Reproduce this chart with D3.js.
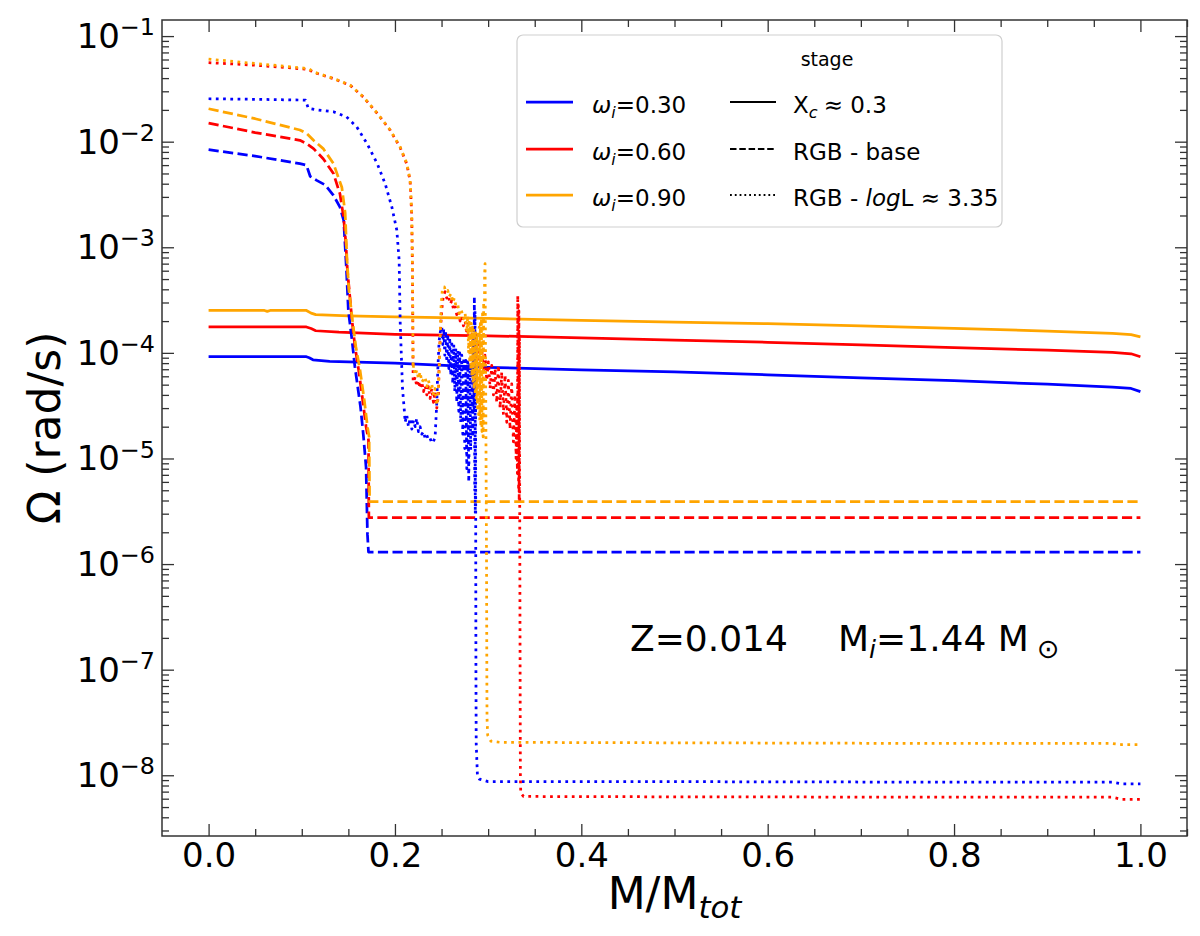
<!DOCTYPE html>
<html>
<head>
<meta charset="utf-8">
<script src="https://cdn.jsdelivr.net/npm/d3@7"></script>
<style>
  body { margin: 0; background: #fff; }
  text { font-family: "DejaVu Sans", sans-serif; fill: #000; }
</style>
</head>
<body>
<div id="chart"></div>
<script>
// ---- data ----
// stage Xc ~ 0.3 (solid)
var blueSolid = [[0,9.2e-5],[0.105,9.2e-5],[0.108,9.0e-5],[0.112,8.6e-5],[0.13,8.3e-5],[0.2,8.0e-5],[0.3,7.3e-5],[0.4,6.9e-5],[0.5,6.6e-5],[0.6,6.2e-5],[0.7,5.8e-5],[0.8,5.45e-5],[0.9,5.05e-5],[0.97,4.75e-5],[0.99,4.6e-5],[1.0,4.3e-5]];
var redSolid = [[0,1.76e-4],[0.105,1.76e-4],[0.11,1.7e-4],[0.115,1.62e-4],[0.14,1.57e-4],[0.2,1.5e-4],[0.3,1.45e-4],[0.4,1.39e-4],[0.5,1.32e-4],[0.6,1.26e-4],[0.7,1.19e-4],[0.8,1.12e-4],[0.9,1.06e-4],[0.97,1.01e-4],[0.99,9.8e-5],[1.0,9.2e-5]];
var orangeSolid = [[0,2.52e-4],[0.06,2.52e-4],[0.063,2.47e-4],[0.066,2.52e-4],[0.105,2.52e-4],[0.11,2.38e-4],[0.115,2.3e-4],[0.15,2.24e-4],[0.2,2.19e-4],[0.3,2.12e-4],[0.4,2.03e-4],[0.5,1.96e-4],[0.6,1.89e-4],[0.7,1.8e-4],[0.8,1.71e-4],[0.9,1.61e-4],[0.97,1.53e-4],[0.99,1.49e-4],[1.0,1.42e-4]];

// stage RGB base (dashed)
var blueDashed = [[0,8.4e-3],[0.05,7.3e-3],[0.098,6.2e-3],[0.105,6.0e-3],[0.109,4.7e-3],[0.116,4.3e-3],[0.125,3.9e-3],[0.134,3.1e-3],[0.141,2.4e-3],[0.145,1.8e-3],[0.1466,1.0e-3],[0.148,6e-4],[0.150,2.5e-4],[0.154,1.3e-4],[0.157,7.4e-5],[0.163,3.1e-5],[0.166,1.7e-5],[0.169,8.3e-6],[0.1705,1.9e-6],[0.1716,1.3e-6],[1.0,1.3e-6]];
var redDashed = [[0,1.5e-2],[0.05,1.22e-2],[0.098,1.03e-2],[0.105,9.6e-3],[0.1126,8.6e-3],[0.123,6.9e-3],[0.134,5.0e-3],[0.141,3.2e-3],[0.1448,1.95e-3],[0.1473,1.1e-3],[0.149,6e-4],[0.151,3.9e-4],[0.154,2.0e-4],[0.157,1.17e-4],[0.161,6.9e-5],[0.1655,3.5e-5],[0.169,2.0e-5],[0.1716,1.5e-5],[0.172,2.75e-6],[1.0,2.75e-6]];
var orangeDashed = [[0,2.05e-2],[0.05,1.65e-2],[0.098,1.29e-2],[0.105,1.2e-2],[0.1126,1.03e-2],[0.123,8.6e-3],[0.134,6.2e-3],[0.143,3.7e-3],[0.1466,2.1e-3],[0.1484,8.1e-4],[0.1505,4.0e-4],[0.1545,2.0e-4],[0.158,1.15e-4],[0.1625,6.9e-5],[0.1672,3.5e-5],[0.1705,2.0e-5],[0.1723,1.6e-5],[0.1728,3.9e-6],[1.0,3.9e-6]];

// stage RGB logL ~ 3.35 (dotted)
var blueDotted = [[0,2.55e-2],[0.05,2.52e-2],[0.098,2.48e-2],[0.104,2.47e-2],[0.107,2.07e-2],[0.116,2.0e-2],[0.134,1.92e-2],[0.148,1.72e-2],[0.159,1.38e-2],[0.170,9.6e-3],[0.181,6.2e-3],[0.1895,4.0e-3],[0.1967,2.4e-3],[0.202,1.45e-3],[0.2045,7.5e-4],[0.2056,1.97e-4],[0.2081,4.6e-5],[0.2102,2.76e-5],
  [0.2109,2.2e-5],[0.2127,2.57e-5],[0.2145,2.0e-5],[0.2163,2.4e-5],[0.2181,1.9e-5],[0.2199,2.3e-5],[0.2217,2.0e-5],[0.2234,2.4e-5],[0.2252,1.8e-5],[0.227,2.0e-5],[0.2288,1.7e-5],[0.2306,1.8e-5],[0.2324,1.55e-5],[0.2342,1.66e-5],[0.236,1.5e-5],[0.2377,1.55e-5],[0.2395,1.4e-5],[0.2413,1.44e-5],[0.2431,1.6e-5],
  [0.2449,3.4e-5],[0.246,7e-5],[0.2474,1.3e-4],[0.2488,1.6e-4],[0.2503,1.76e-4],[0.2513,1.2e-4],[0.2524,1.7e-4],[0.2535,9.5e-5],[0.2545,1.6e-4],[0.2556,8.2e-5],[0.2567,1.5e-4],[0.2578,7.1e-5],[0.2588,1.4e-4],[0.2599,6.1e-5],[0.261,1.3e-4],[0.262,5.1e-5],[0.2631,1.2e-4],[0.2642,4.3e-5],[0.2653,1.1e-4],[0.2663,3.4e-5],[0.2674,1.05e-4],[0.2685,2.8e-5],[0.2695,1.0e-4],[0.2706,2.2e-5],[0.2717,9.5e-5],[0.2728,1.7e-5],[0.2738,9e-5],[0.2749,1.24e-5],[0.276,8.5e-5],[0.2771,8e-6],[0.2781,8.2e-5],[0.2792,6e-6],[0.2803,8e-5],[0.2813,1.2e-5],[0.2824,7.8e-5],[0.2835,1.6e-5],[0.2842,1.5e-4],
  [0.2848,3e-5],[0.2852,3.4e-4],[0.2856,5e-6],[0.2859,2.5e-4],[0.2862,3e-6],[0.2865,1.5e-4],[0.2867,1.3e-6],[0.2869,1e-7],[0.2872,2e-8],[0.2885,1.0e-8],[0.2906,9.2e-9],[0.30,8.7e-9],[0.5,8.7e-9],[0.8,8.6e-9],[0.97,8.6e-9],[0.98,8.3e-9],[1.0,8.3e-9]];
var redDotted = [[0,5.6e-2],[0.05,5.3e-2],[0.1,4.9e-2],[0.108,4.8e-2],[0.112,4.55e-2],[0.134,3.95e-2],[0.152,3.42e-2],[0.166,2.65e-2],[0.181,1.85e-2],[0.195,1.28e-2],[0.2056,8.8e-3],[0.2128,6.1e-3],[0.2163,4.2e-3],[0.218,2.0e-3],[0.2188,6e-4],[0.2195,5.3e-5],
  [0.2199,5.3e-5],[0.2217,5.9e-5],[0.2234,4.8e-5],[0.2252,5.5e-5],[0.227,4.6e-5],[0.2288,5.3e-5],[0.2306,4.3e-5],[0.2324,4.9e-5],[0.2342,4.0e-5],[0.236,4.8e-5],[0.2377,3.7e-5],[0.2395,4.6e-5],[0.2413,3.4e-5],[0.2431,4.3e-5],[0.2449,3.0e-5],[0.2467,4.0e-5],
  [0.2474,8.2e-5],[0.2488,1.6e-4],[0.2503,2.6e-4],[0.252,3.5e-4],[0.2538,3.8e-4],[0.2556,3.3e-4],[0.2574,3.5e-4],[0.2592,2.9e-4],[0.261,3.1e-4],[0.2628,2.6e-4],[0.2645,2.8e-4],[0.2663,2.3e-4],[0.2681,2.5e-4],[0.2699,2.0e-4],[0.2717,2.2e-4],[0.2735,1.8e-4],[0.2753,2.0e-4],[0.2771,1.5e-4],[0.2789,1.9e-4],[0.2806,1.2e-4],[0.2824,1.7e-4],[0.2842,1.0e-4],[0.286,1.5e-4],[0.2878,8.5e-5],[0.2896,1.3e-4],[0.2914,7.5e-5],[0.2931,1.1e-4],[0.2949,6.5e-5],[0.2967,9.5e-5],[0.2985,5.5e-5],
  [0.3003,8.2e-5],[0.3021,4.6e-5],[0.3039,7.6e-5],[0.3057,4.0e-5],[0.3075,7.1e-5],[0.3092,3.4e-5],[0.311,7.6e-5],[0.3128,3.0e-5],[0.3146,6.6e-5],[0.3164,2.6e-5],[0.3182,6.15e-5],[0.32,2.2e-5],[0.3217,5.5e-5],[0.3235,1.9e-5],[0.3253,5.1e-5],[0.3271,1.44e-5],[0.3289,4.0e-5],[0.33,1.0e-5],[0.3307,3.0e-5],[0.3314,7.2e-6],
  [0.3318,3.5e-4],[0.3321,8e-6],[0.3324,3e-4],[0.3327,5e-6],[0.333,2.5e-4],[0.3333,4e-6],[0.3336,1.5e-4],[0.3339,3e-6],[0.3343,1e-7],[0.3346,1e-8],[0.335,6.8e-9],[0.338,6.3e-9],[0.5,6.25e-9],[0.8,6.2e-9],[0.97,6.2e-9],[0.98,5.9e-9],[1.0,5.9e-9]];
var orangeDotted = [[0,6.05e-2],[0.05,5.5e-2],[0.1,5.0e-2],[0.108,4.9e-2],[0.112,4.6e-2],[0.134,3.97e-2],[0.152,3.43e-2],[0.166,2.66e-2],[0.181,1.86e-2],[0.195,1.29e-2],[0.2056,8.9e-3],[0.2128,6.2e-3],[0.2163,4.3e-3],[0.218,2.1e-3],[0.2188,6e-4],[0.2195,7.1e-5],
  [0.2199,7.6e-5],[0.2217,6.15e-5],[0.2234,6.85e-5],[0.2252,5.7e-5],[0.227,6.6e-5],[0.2288,5.3e-5],[0.2324,5.9e-5],[0.2342,4.8e-5],[0.236,5.5e-5],[0.2377,4.6e-5],[0.2395,5.1e-5],[0.2413,4.0e-5],[0.2431,4.6e-5],[0.2449,3.2e-5],[0.246,3.7e-5],
  [0.2474,6.6e-5],[0.2485,1.37e-4],[0.2495,2.8e-4],[0.251,4.1e-4],[0.2531,4.2e-4],[0.2545,3.8e-4],[0.2567,3.9e-4],[0.2581,3.4e-4],[0.2603,3.65e-4],[0.2617,3.0e-4],[0.2638,3.3e-4],[0.2653,2.8e-4],[0.2674,2.9e-4],[0.2688,2.36e-4],[0.271,2.6e-4],[0.2735,2.1e-4],[0.2753,2.36e-4],[0.2771,1.58e-4],[0.2781,2.27e-4],
  [0.279,1.0e-4],[0.2796,2.1e-4],[0.2802,8e-5],[0.2808,1.95e-4],[0.2814,7e-5],[0.282,1.9e-4],[0.2826,6e-5],[0.2832,1.75e-4],[0.2838,5.2e-5],[0.2844,1.7e-4],[0.285,4.5e-5],[0.2856,1.6e-4],[0.2862,4e-5],[0.2868,1.55e-4],[0.2874,3.5e-5],[0.288,1.5e-4],[0.2886,3e-5],[0.2892,1.6e-4],[0.2898,2.6e-5],[0.2904,1.75e-4],[0.291,2.3e-5],[0.2916,1.9e-4],[0.2922,2.0e-5],[0.2928,2.1e-4],[0.2934,1.8e-5],[0.294,2.5e-4],[0.2946,1.6e-5],[0.2952,3.0e-4],[0.2958,2e-5],[0.2962,5.45e-4],[0.2967,7.0e-4],
  [0.2975,3e-5],[0.2983,1e-6],[0.2986,1e-7],[0.2988,3.5e-8],[0.2995,2.4e-8],[0.303,2.1e-8],[0.313,2.05e-8],[0.5,2.03e-8],[0.8,2.0e-8],[0.97,2.0e-8],[0.98,1.95e-8],[1.0,1.95e-8]];

var omegaLabels = ["0.30", "0.60", "0.90"];
var omegaColors = ["blue", "red", "orange"];
var xTicks = [0, 0.2, 0.4, 0.6, 0.8, 1.0];
var xTickLabels = ["0.0", "0.2", "0.4", "0.6", "0.8", "1.0"];
var yMajorTicks = [1e-8, 1e-7, 1e-6, 1e-5, 1e-4, 1e-3, 1e-2, 1e-1];
var yTickExps = ["\u22128", "\u22127", "\u22126", "\u22125", "\u22124", "\u22123", "\u22122", "\u22121"];

var series = [
  {data: blueSolid, color: "blue", dash: null},
  {data: redSolid, color: "red", dash: null},
  {data: orangeSolid, color: "orange", dash: null},
  {data: blueDashed, color: "blue", dash: "10.2,4.4"},
  {data: redDashed, color: "red", dash: "10.2,4.4"},
  {data: orangeDashed, color: "orange", dash: "10.2,4.4"},
  {data: blueDotted, color: "blue", dash: "2.75,4.5"},
  {data: redDotted, color: "red", dash: "2.75,4.5"},
  {data: orangeDotted, color: "orange", dash: "2.75,4.5"}
];

// ---- layout ----
var svgWidth = 1200;
var svgHeight = 936;
var margin = {top: 20, right: 13, bottom: 100, left: 162};
var chartWidth = svgWidth - margin.left - margin.right;
var chartHeight = svgHeight - margin.top - margin.bottom;

var svg = d3.select("#chart").append("svg")
  .attr("width", svgWidth)
  .attr("height", svgHeight);

var chartGroup = svg.append("g")
  .attr("transform", `translate(${margin.left}, ${margin.top})`);

var x = d3.scaleLinear().domain([-0.05, 1.05]).range([0, chartWidth]);
var y = d3.scaleLog().domain([2.66e-9, 0.142]).range([chartHeight, 0]);

// small helper for mathtext-like labels (sub / superscripts, italics)
function richText(sel, px, py, parts, size, anchor) {
  var t = sel.append("text")
    .attr("x", px).attr("y", py)
    .attr("font-size", size)
    .attr("text-anchor", anchor || "start");
  var prev = 0;
  parts.forEach(function(p) {
    var off = 0, fs = size;
    if (p.sub) { fs = size * (p.scale || 0.7); off = size * 0.2; }
    if (p.sup) { fs = size * 0.7; off = -size * 0.38; }
    var ts = t.append("tspan").text(p.t)
      .attr("font-size", fs)
      .attr("dy", off - prev);
    if (p.dx) ts.attr("dx", p.dx);
    if (p.it) ts.attr("font-style", "italic");
    prev = off;
  });
  return t;
}

// ---- lines ----
svg.append("defs").append("clipPath").attr("id", "plotclip")
  .append("rect").attr("width", chartWidth).attr("height", chartHeight);

var line = d3.line()
  .x(d => x(d[0]))
  .y(d => y(d[1]));

chartGroup.append("g").attr("clip-path", "url(#plotclip)")
  .selectAll("path")
  .data(series)
  .enter()
  .append("path")
  .attr("d", d => line(d.data))
  .attr("fill", "none")
  .attr("stroke", d => d.color)
  .attr("stroke-width", 2.75)
  .attr("stroke-dasharray", d => d.dash)
  .attr("stroke-linejoin", "round");

// ---- axes (ticks inward on all four sides) ----
var xMinor = d3.range(1, 22).map(i => i * 0.05).filter(v => Math.abs(v / 0.2 - Math.round(v / 0.2)) > 1e-6);
var yMinor = [];
d3.range(-9, 0).forEach(function(e) {
  d3.range(2, 10).forEach(function(k) {
    var v = k * Math.pow(10, e);
    if (v > 2.66e-9 && v < 0.142) yMinor.push(v);
  });
});

function styleAxis(g) {
  g.select(".domain").remove();
  g.selectAll(".tick line").attr("stroke", "#333").attr("stroke-width", 1.3);
}

// bottom
chartGroup.append("g")
  .attr("transform", `translate(0, ${chartHeight})`)
  .call(d3.axisBottom(x).tickValues(xTicks).tickSize(-12).tickPadding(7)
    .tickFormat((d, i) => xTickLabels[i]))
  .call(styleAxis)
  .selectAll("text")
  .attr("font-size", 34)
  .attr("font-family", "DejaVu Sans")
  .attr("fill", "#000");
chartGroup.append("g")
  .attr("transform", `translate(0, ${chartHeight})`)
  .call(d3.axisBottom(x).tickValues(xMinor).tickSize(-7).tickFormat(""))
  .call(styleAxis);
// top
chartGroup.append("g")
  .call(d3.axisTop(x).tickValues(xTicks).tickSize(-12).tickFormat(""))
  .call(styleAxis);
chartGroup.append("g")
  .call(d3.axisTop(x).tickValues(xMinor).tickSize(-7).tickFormat(""))
  .call(styleAxis);
// left
chartGroup.append("g")
  .call(d3.axisLeft(y).tickValues(yMajorTicks).tickSize(-12).tickFormat(""))
  .call(styleAxis);
chartGroup.append("g")
  .call(d3.axisLeft(y).tickValues(yMinor).tickSize(-7).tickFormat(""))
  .call(styleAxis);
// right
chartGroup.append("g")
  .attr("transform", `translate(${chartWidth}, 0)`)
  .call(d3.axisRight(y).tickValues(yMajorTicks).tickSize(-12).tickFormat(""))
  .call(styleAxis);
chartGroup.append("g")
  .attr("transform", `translate(${chartWidth}, 0)`)
  .call(d3.axisRight(y).tickValues(yMinor).tickSize(-7).tickFormat(""))
  .call(styleAxis);

// y tick labels 10^n
yMajorTicks.forEach(function(v, i) {
  richText(chartGroup, -7, y(v) + 12, [{t: "10"}, {t: yTickExps[i], sup: true}], 34, "end");
});

// frame
chartGroup.append("rect")
  .attr("width", chartWidth)
  .attr("height", chartHeight)
  .attr("fill", "none")
  .attr("stroke", "#333")
  .attr("stroke-width", 1.5);

// axis labels
svg.append("text")
  .attr("transform", `translate(60, ${margin.top + chartHeight / 2}) rotate(-90)`)
  .attr("text-anchor", "middle")
  .attr("font-size", 44)
  .text("\u03A9 (rad/s)");

richText(svg, margin.left + chartWidth / 2, 909,
  [{t: "M/M"}, {t: "tot", sub: true, it: true}], 44, "middle");

// annotation
richText(svg, 630, 651, [{t: "Z=0.014"}], 36);
richText(svg, 838, 651,
  [{t: "M"}, {t: "i", sub: true, it: true}, {t: "=1.44 M"}, {t: "\u2299", sub: true, dx: 8, scale: 0.75}], 36);

// ---- legend ----
var legend = svg.append("g");
legend.append("rect")
  .attr("x", 517).attr("y", 35)
  .attr("width", 485).attr("height", 192)
  .attr("rx", 6)
  .attr("fill", "#fff")
  .attr("fill-opacity", 0.85)
  .attr("stroke", "#cfcfcf")
  .attr("stroke-width", 1.2);

legend.append("text")
  .attr("x", 827).attr("y", 66)
  .attr("text-anchor", "middle")
  .attr("font-size", 19)
  .text("stage");

var rowY = [113, 160, 206];
omegaLabels.forEach(function(lab, i) {
  legend.append("line")
    .attr("x1", 526).attr("x2", 573)
    .attr("y1", rowY[i] - 11).attr("y2", rowY[i] - 11)
    .attr("stroke", omegaColors[i])
    .attr("stroke-width", 2.75);
  richText(legend, 592, rowY[i],
    [{t: "\u03C9", it: true}, {t: "i", sub: true, it: true}, {t: "=" + lab}], 23);
});

var stageDash = [null, "6.5,2.8", "1.8,3"];
var stageWidth = [2.2, 1.8, 1.8];
var stageParts = [
  [{t: "X"}, {t: "c", sub: true, it: true}, {t: "\u2248 0.3", dx: 6}],
  [{t: "RGB - base"}],
  [{t: "RGB - "}, {t: "log", it: true}, {t: "L \u2248 3.35"}]
];
stageParts.forEach(function(parts, i) {
  legend.append("line")
    .attr("x1", 730).attr("x2", 776)
    .attr("y1", rowY[i] - 11).attr("y2", rowY[i] - 11)
    .attr("stroke", "#000")
    .attr("stroke-width", stageWidth[i])
    .attr("stroke-dasharray", stageDash[i]);
  richText(legend, 793, rowY[i], parts, 23);
});
</script>
</body>
</html>
